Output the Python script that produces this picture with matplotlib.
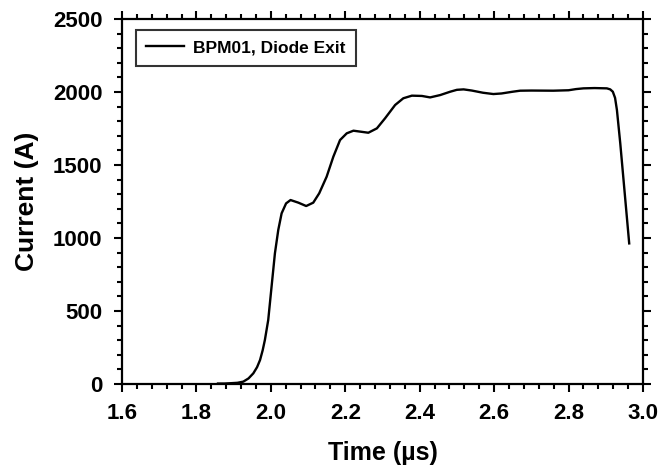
import matplotlib
matplotlib.use('Agg')
import matplotlib.pyplot as plt
from matplotlib.ticker import MultipleLocator, FormatStrFormatter

plt.rcParams['font.family'] = ['Liberation Sans', 'DejaVu Sans']
plt.rcParams['font.weight'] = 'bold'

# Current trace (time in us, current in A)
time_us = [1.858, 1.875, 1.890, 1.910, 1.926, 1.940, 1.953, 1.963, 1.971,
           1.978, 1.984, 1.993, 2.002, 2.011, 2.020, 2.029, 2.041, 2.053,
           2.074, 2.095, 2.114, 2.130, 2.150, 2.168, 2.186, 2.204, 2.222,
           2.242, 2.262, 2.285, 2.307, 2.334, 2.356, 2.379, 2.406, 2.428,
           2.455, 2.482, 2.500, 2.518, 2.540, 2.570, 2.598, 2.620, 2.650,
           2.670, 2.700, 2.759, 2.800, 2.820, 2.840, 2.870, 2.903, 2.912,
           2.919, 2.925, 2.930, 2.939, 2.950, 2.963]
current_a = [3, 3, 5, 8, 16, 38, 73, 115, 164,
             230, 301, 438, 667, 895, 1055, 1169, 1237, 1260,
             1242, 1219, 1242, 1306, 1420, 1557, 1671, 1717, 1735,
             1728, 1721, 1751, 1820, 1911, 1957, 1975, 1973, 1963,
             1979, 2002, 2015, 2018, 2010, 1995, 1986, 1990, 2002,
             2009, 2010, 2009, 2012, 2020, 2025, 2027, 2025, 2018,
             2002, 1960, 1877, 1648, 1334, 963]

fig = plt.figure(figsize=(6.72, 4.73), dpi=100)
ax = fig.add_axes([0.1815, 0.1882, 0.7753, 0.7716])

ax.plot(time_us, current_a, color='black', lw=1.7, label='BPM01, Diode Exit')

ax.set_xlim(1.6, 3.0)
ax.set_ylim(0, 2500)
ax.xaxis.set_major_locator(MultipleLocator(0.2))
ax.xaxis.set_minor_locator(MultipleLocator(0.04))
ax.yaxis.set_major_locator(MultipleLocator(500))
ax.yaxis.set_minor_locator(MultipleLocator(100))
ax.xaxis.set_major_formatter(FormatStrFormatter('%.1f'))

ax.tick_params(which='both', direction='out', top=True, right=True,
               labeltop=False, labelright=False, width=1.5)
ax.tick_params(which='major', length=6, labelsize=16)
ax.tick_params(axis='x', which='major', pad=8)
ax.tick_params(axis='y', which='major', pad=8)
ax.tick_params(which='minor', length=3.5)
for s in ax.spines.values():
    s.set_linewidth(1.6)

ax.set_xlabel('Time (\u00b5s)', fontsize=18, fontweight='bold', labelpad=12)
ax.set_ylabel('Current (A)', fontsize=19, fontweight='bold', labelpad=10)

leg = ax.legend(loc='upper left', fontsize=12.5, frameon=True, fancybox=False,
                edgecolor='black', handlelength=2.2, handletextpad=0.5,
                borderpad=0.6, bbox_to_anchor=(0.010, 0.995))
leg.get_frame().set_linewidth(1.5)
for t in leg.get_texts():
    t.set_fontweight('bold')

fig.savefig('out.png', dpi=100)
